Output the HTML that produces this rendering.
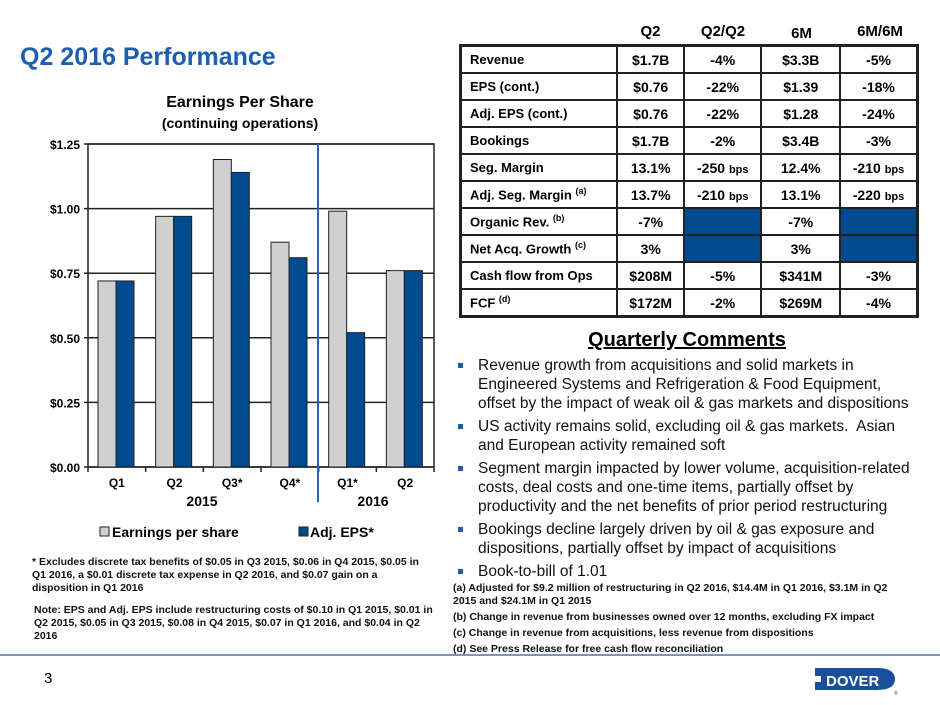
<!DOCTYPE html>
<html><head><meta charset="utf-8"><style>
body{margin:0;width:940px;height:705px;position:relative;background:#fff;font-family:"Liberation Sans",Arial,sans-serif;overflow:hidden}
.a{position:absolute}
.b{font-weight:bold}
table{border-collapse:collapse}
td{border:2px solid #222;height:25px;padding:0;font-weight:bold;font-size:14px;text-align:center}
td.l{text-align:left;padding-left:8px;font-size:13px}
td.f{background:#004a8f}
sup{font-size:9px}
.bl{font-size:15.5px;line-height:19px;color:#111}
.bl div{position:relative;padding-left:22px;margin-bottom:4px}
.bl div:before{content:"";position:absolute;left:2px;top:7px;width:5px;height:5px;background:#1a5ea8}
.fn{font-size:10.5px;font-weight:bold;line-height:13px;color:#111}
</style></head><body>
<div class="a b" style="left:20px;top:43px;font-size:25px;color:#1d5fae">Q2 2016 Performance</div>
<div class="a b" style="left:60px;top:94px;width:360px;text-align:center;font-size:16px">Earnings Per Share</div>
<div class="a b" style="left:60px;top:115px;width:360px;text-align:center;font-size:14px">(continuing operations)</div>
<svg class="a" style="left:0;top:0" width="450" height="560" id="chart"></svg>

<div class="a" style="left:459px;top:20px">
<div style="position:relative;height:24px;font-weight:bold;font-size:15px">
<span class="a" style="left:158px;width:67px;text-align:center;top:3px">Q2</span>
<span class="a" style="left:225px;width:78px;text-align:center;top:3px">Q2/Q2</span>
<span class="a" style="left:303px;width:79px;text-align:center;top:5px">6M</span>
<span class="a" style="left:382px;width:78px;text-align:center;top:3px">6M/6M</span>
</div>
<table style="width:460px;border:3px solid #222">
<colgroup><col style="width:158px"><col style="width:67px"><col style="width:78px"><col style="width:79px"><col style="width:78px"></colgroup>
<tr><td class="l">Revenue</td><td>$1.7B</td><td>-4%</td><td>$3.3B</td><td>-5%</td></tr>
<tr><td class="l">EPS (cont.)</td><td>$0.76</td><td>-22%</td><td>$1.39</td><td>-18%</td></tr>
<tr><td class="l">Adj. EPS (cont.)</td><td>$0.76</td><td>-22%</td><td>$1.28</td><td>-24%</td></tr>
<tr><td class="l">Bookings</td><td>$1.7B</td><td>-2%</td><td>$3.4B</td><td>-3%</td></tr>
<tr><td class="l">Seg. Margin</td><td>13.1%</td><td>-250 <span style="font-size:11px">bps</span></td><td>12.4%</td><td>-210 <span style="font-size:11px">bps</span></td></tr>
<tr><td class="l">Adj. Seg. Margin <sup>(a)</sup></td><td>13.7%</td><td>-210 <span style="font-size:11px">bps</span></td><td>13.1%</td><td>-220 <span style="font-size:11px">bps</span></td></tr>
<tr><td class="l">Organic Rev. <sup>(b)</sup></td><td>-7%</td><td class="f"></td><td>-7%</td><td class="f"></td></tr>
<tr><td class="l">Net Acq. Growth <sup>(c)</sup></td><td>3%</td><td class="f"></td><td>3%</td><td class="f"></td></tr>
<tr><td class="l">Cash flow from Ops</td><td>$208M</td><td>-5%</td><td>$341M</td><td>-3%</td></tr>
<tr><td class="l">FCF <sup>(d)</sup></td><td>$172M</td><td>-2%</td><td>$269M</td><td>-4%</td></tr>
</table></div>

<div class="a b" style="left:587px;top:329px;width:200px;text-align:center;font-size:20px;text-decoration:underline">Quarterly Comments</div>
<div class="a bl" style="left:456px;top:356px;width:462px">
<div>Revenue growth from acquisitions and solid markets in Engineered Systems and Refrigeration &amp; Food Equipment, offset by the impact of weak oil &amp; gas markets and dispositions</div>
<div>US activity remains solid, excluding oil &amp; gas markets.&nbsp; Asian and European activity remained soft</div>
<div>Segment margin impacted by lower volume, acquisition-related costs, deal costs and one-time items, partially offset by productivity and the net benefits of prior period restructuring</div>
<div>Bookings decline largely driven by oil &amp; gas exposure and dispositions, partially offset by impact of acquisitions</div>
<div>Book-to-bill of 1.01</div>
</div>
<div class="a fn" style="left:453px;top:582px;width:455px">
<div>(a) Adjusted for $9.2 million of restructuring in Q2 2016, $14.4M in Q1 2016, $3.1M in Q2 2015 and $24.1M in Q1 2015</div>
<div style="margin-top:3px">(b) Change in revenue from businesses owned over 12 months, excluding FX impact</div>
<div style="margin-top:3px">(c) Change in revenue from acquisitions, less revenue from dispositions</div>
<div style="margin-top:3px">(d) See Press Release for free cash flow reconciliation</div>
</div>
<div class="a fn" style="left:32px;top:556px;width:400px">* Excludes discrete tax benefits of $0.05 in Q3 2015, $0.06 in Q4 2015, $0.05 in Q1 2016, a $0.01 discrete tax expense in Q2 2016, and $0.07 gain on a disposition in Q1 2016</div>
<div class="a fn" style="left:34px;top:604px;width:400px">Note: EPS and Adj. EPS include restructuring costs of $0.10 in Q1 2015, $0.01 in Q2 2015, $0.05 in Q3 2015, $0.08 in Q4 2015, $0.07 in Q1 2016, and $0.04 in Q2 2016</div>
<div class="a" style="left:0;top:654px;width:940px;height:2px;background:#7f93bf"></div>
<div class="a" style="left:44px;top:670px;font-size:15px">3</div>
<svg class="a" style="left:815px;top:666px" width="85" height="30">
<path d="M0 2 H62 Q80 2 80 13 Q80 24 62 24 H0 V16 H6 V10 H0 Z" fill="#1a4f9c"/>
<text x="11" y="20" fill="#fff" font-family="Liberation Sans" font-weight="bold" font-size="15">DOVER</text>
<text x="79" y="29" fill="#1a4f9c" font-size="5">®</text>
</svg>
<script>
const categories=["Q1","Q2","Q3*","Q4*","Q1*","Q2"];
const epsValues=[0.72,0.97,1.19,0.87,0.99,0.76];
const adjEpsValues=[0.72,0.97,1.14,0.81,0.52,0.76];
const tickValues=[0,0.25,0.5,0.75,1.0,1.25];
const tickLabels=["$0.00","$0.25","$0.50","$0.75","$1.00","$1.25"];
const svg=document.getElementById('chart');const NS="http://www.w3.org/2000/svg";
const X0=88,X1=434,Y0=467,Y1=144,MAX=1.25;
const y=v=>Y0-(v/MAX)*(Y0-Y1);
const gw=(X1-X0)/categories.length;
function mk(t,a){const e=document.createElementNS(NS,t);for(const k in a)e.setAttribute(k,a[k]);svg.appendChild(e);return e;}
tickValues.forEach((v,i)=>{
 const l=mk('line',{x1:X0-4,x2:X1,y1:y(v),y2:y(v),stroke:'#222','stroke-width':1.5});
 
 
 const t=mk('text',{x:X0-8,y:y(v)+5,'text-anchor':'end','font-size':12,'font-weight':'bold','font-family':'Liberation Sans'});
 t.textContent=tickLabels[i];
 
 
});
mk('rect',{x:X0,y:Y1,width:X1-X0,height:Y0-Y1,fill:'none',stroke:'#222','stroke-width':1.5});
categories.forEach((c,i)=>{
 const gx=X0+i*gw;
 const b1=mk('rect',{x:gx+10,y:y(epsValues[i]),width:18,height:Y0-y(epsValues[i]),fill:'#d0d0d0',stroke:'#222','stroke-width':1});
 
 
 const b2=mk('rect',{x:gx+28,y:y(adjEpsValues[i]),width:18,height:Y0-y(adjEpsValues[i]),fill:'#004a8f',stroke:'#222','stroke-width':1});
 
 
 mk('line',{x1:gx,x2:gx,y1:Y0,y2:Y0+5,stroke:'#222','stroke-width':1.5});
 const t=mk('text',{x:gx+gw/2,y:Y0+20,'text-anchor':'middle','font-size':12,'font-weight':'bold','font-family':'Liberation Sans'});
 t.textContent=c;
 
 
});
mk('line',{x1:X1,x2:X1,y1:Y0,y2:Y0+5,stroke:'#222','stroke-width':1.5});
mk('line',{x1:318,x2:318,y1:Y1,y2:502,stroke:'#2b64ad','stroke-width':2});
[["2015",202],["2016",373]].forEach(([s,x])=>{const t=mk('text',{x:x,y:506,'text-anchor':'middle','font-size':14,'font-weight':'bold','font-family':'Liberation Sans'});t.textContent=s;
 
 });
mk('rect',{x:100,y:527,width:9,height:9,fill:'#d0d0d0',stroke:'#222'});
const l1=mk('text',{x:112,y:537,'font-size':14,'font-weight':'bold','font-family':'Liberation Sans'});l1.textContent="Earnings per share";


mk('rect',{x:299,y:527,width:9,height:9,fill:'#004a8f',stroke:'#222'});
const l2=mk('text',{x:310,y:537,'font-size':14,'font-weight':'bold','font-family':'Liberation Sans'});l2.textContent="Adj. EPS*";


</script>
</body></html>
